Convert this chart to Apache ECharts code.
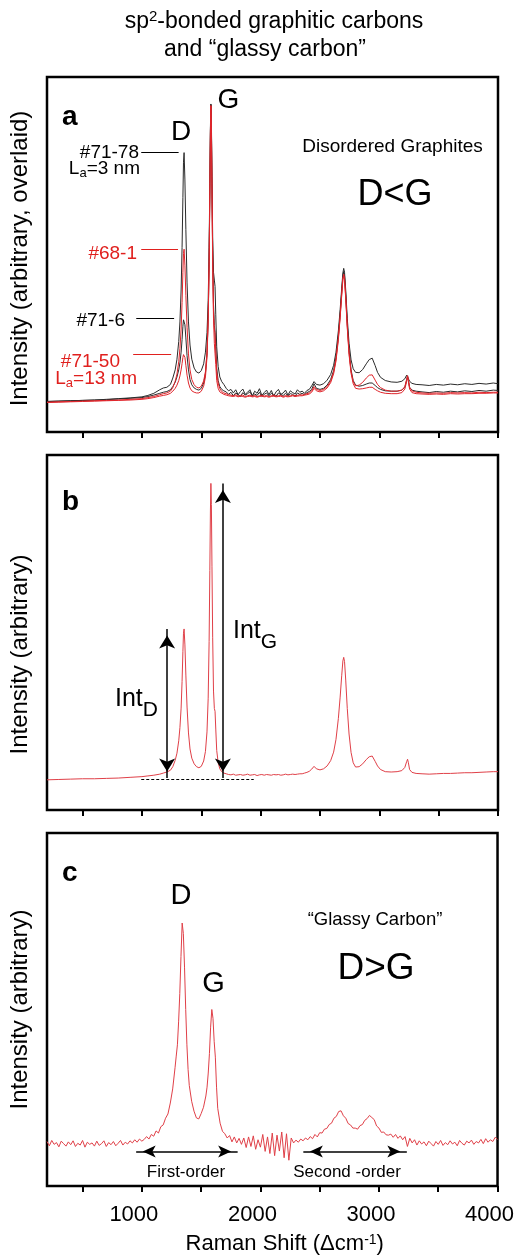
<!DOCTYPE html>
<html>
<head>
<meta charset="utf-8">
<script src="https://cdn.jsdelivr.net/npm/echarts@6/dist/echarts.min.js"></script>
<style>
  html, body { margin: 0; padding: 0; background: #fff; }
  #chart { width: 517px; height: 1256px; }
</style>
</head>
<body>
<div id="chart"></div>
<script>
// Raman shift sampling (cm-1) shared by panels a and b
const shiftAB = [
  200, 300, 400, 500, 600, 700, 800, 900, 1000, 1050, 1100, 1150, 1180, 1210, 1240,
  1260, 1280, 1295, 1310, 1320, 1330, 1338, 1345, 1350, 1355, 1362, 1370, 1380, 1392, 1405, 1420, 1440, 1460, 1480,
  1500, 1520, 1535, 1548, 1558, 1566, 1572, 1577, 1581, 1585, 1590, 1596, 1603, 1610, 1616, 1622, 1630, 1642, 1656, 1672, 1690,
  1710, 1730, 1750, 1770, 1790, 1810, 1830, 1850, 1870, 1890, 1910, 1930, 1950, 1970, 1990, 2010, 2030, 2050, 2070, 2090,
  2110, 2130, 2150, 2170, 2190, 2210, 2230, 2250, 2270, 2290, 2310, 2330, 2350, 2370, 2390,
  2410, 2430, 2450, 2470, 2500, 2530, 2560, 2590, 2615, 2635, 2655, 2670, 2683, 2693, 2700, 2707, 2717, 2730, 2745, 2762, 2780, 2800,
  2830, 2860, 2890, 2915, 2930, 2940, 2950, 2965, 2985, 3010, 3050, 3100, 3150, 3190, 3215, 3230, 3238, 3245, 3255, 3275, 3310,
  3360, 3420, 3480, 3540, 3600, 3660, 3720, 3780, 3840, 3900, 3960, 4000
];

// Panel a: disordered graphites, intensities normalised to the G band
const s7178 = [
  8.6, 8.7, 8.8, 8.9, 9.0, 9.2, 9.4, 9.6, 9.9, 10.3, 10.9, 11.9, 12.4, 12.6, 13.4,
  15.2, 17.5, 20.5, 25.5, 31, 40, 52, 66, 76, 78.7, 71, 57, 42, 31, 24.5, 20.5, 18, 16.9, 16.6,
  17.3, 19.2, 22.5, 28, 37, 52, 70, 86, 92.4, 88, 72, 55, 45, 42.8, 41, 33, 24, 18.5, 15.5, 14.2, 13.4,
  12.3, 11.6, 12.0, 11.0, 11.9, 10.5, 11.4, 12.1, 10.6, 11.2, 11.9, 10.2, 11.5, 10.9, 12.2, 10.3, 11.1, 11.8, 10.5, 11.7,
  10.1, 11.3, 12.0, 10.6, 11.0, 11.8, 10.4, 11.6, 11.1, 10.7, 11.9, 11.2, 11.5, 10.9, 11.7,
  12.0, 13.0, 14.2, 13.4, 13.2, 13.6, 14.6, 16.2, 18.8, 22.5, 28.5, 34.5, 40.5, 44.8, 46.1, 45, 40, 32, 25, 20.3, 17.8, 16.8,
  16.7, 17.6, 19.2, 20.4, 20.8, 20.8, 20.3, 18.7, 16.8, 15.4, 14.5, 14.1, 14.0, 14.3, 15.0, 16.0, 16.5, 15.6, 14.3, 13.7, 13.4,
  13.3, 13.1, 13.4, 13.2, 13.5, 13.3, 13.6, 13.4, 13.7, 13.5, 13.8, 13.6
];
const s716 = [
  8.6, 8.7, 8.8, 8.9, 9.0, 9.1, 9.3, 9.5, 9.7, 10.0, 10.4, 10.9, 11.2, 11.4, 11.9,
  12.8, 14.0, 15.5, 17.5, 19.5, 22.5, 26, 29.8, 31.6, 32.0, 30.2, 26.5, 21.5, 17.5, 14.8, 13.3, 12.4, 12.0, 11.8,
  12.3, 13.8, 16.5, 22, 32, 48, 68, 85, 92.2, 87, 70, 50, 36, 30, 28, 24, 18, 14.5, 12.8, 12.0, 11.6,
  11.3, 10.6, 11.2, 10.2, 11.0, 10.5, 10.0, 11.1, 10.4, 10.8, 11.3, 10.1, 10.7, 10.3, 11.2, 10.0, 10.6, 11.0, 10.2, 10.9,
  10.4, 10.1, 11.0, 10.5, 10.3, 10.9, 10.2, 10.8, 10.6, 10.1, 11.0, 10.6, 10.9, 10.5, 11.1,
  11.4, 12.0, 13.6, 12.3, 12.0, 12.3, 13.2, 14.8, 17.3, 21.0, 27.0, 33.2, 39.5, 44.0, 45.2, 44.0, 38.8, 30.5, 23.0, 17.5, 14.5, 13.2,
  12.9, 13.1, 13.5, 13.8, 13.9, 13.8, 13.6, 13.1, 12.5, 12.0, 11.6, 11.5, 11.5, 11.8, 12.6, 14.6, 15.8, 14.6, 12.6, 11.8, 11.5,
  11.3, 11.1, 11.4, 11.2, 11.5, 11.3, 11.6, 11.4, 11.7, 11.5, 11.8, 11.7
];
const s681 = [
  8.4, 8.5, 8.6, 8.7, 8.8, 8.9, 9.0, 9.2, 9.4, 9.7, 10.0, 10.5, 10.8, 11.0, 11.5,
  12.5, 14.3, 16.3, 19.8, 23.5, 29, 36.5, 45, 50.3, 51.5, 47, 38.5, 29.5, 22, 17.5, 14.8, 13.3, 12.6, 12.4,
  12.9, 14.4, 17, 22.5, 32, 48, 68, 85, 92.0, 86.5, 69, 49, 34, 29, 27.9, 23, 17, 13.8, 12.2, 11.4, 11.0,
  10.8, 10.5, 10.4, 10.2, 10.5, 10.1, 10.3, 10.4, 10.0, 10.2, 10.4, 10.1, 10.3, 10.0, 10.2, 10.4, 10.1, 10.3, 10.0, 10.2,
  10.4, 10.1, 10.2, 10.3, 10.0, 10.3, 10.1, 10.2, 10.4, 10.2, 10.3, 10.5, 10.4, 10.6, 10.8,
  11.0, 11.6, 12.8, 12.0, 11.7, 12.0, 12.8, 14.3, 16.8, 20.5, 26.5, 32.6, 38.8, 43.4, 44.5, 43.3, 38.0, 29.8, 22.3, 17.0, 14.2, 13.0,
  13.2, 14.0, 15.2, 16.0, 16.2, 16.1, 15.6, 14.6, 13.4, 12.5, 11.8, 11.5, 11.5, 11.8, 12.8, 14.8, 15.9, 14.7, 12.6, 11.6, 11.2,
  11.0, 10.9, 11.0, 10.9, 11.1, 11.0, 11.1, 11.0, 11.2, 11.1, 11.2, 11.2
];
const s7150 = [
  8.3, 8.4, 8.5, 8.6, 8.7, 8.8, 8.9, 9.0, 9.2, 9.4, 9.7, 10.1, 10.3, 10.5, 10.9,
  11.5, 12.3, 13.2, 14.5, 15.8, 17.5, 19.3, 21, 21.8, 22.0, 21, 18.8, 16, 13.8, 12.4, 11.6, 11.2, 11.0, 11.0,
  11.5, 12.9, 15.5, 21, 31, 47, 67, 84, 91.8, 86, 68, 47, 32, 25, 22, 19, 14.5, 12.3, 11.3, 10.8, 10.6,
  10.4, 10.2, 10.1, 10.0, 10.2, 9.9, 10.1, 10.0, 9.8, 10.0, 10.1, 9.9, 10.0, 9.8, 10.0, 10.1, 9.9, 10.0, 9.8, 10.0,
  10.1, 9.9, 10.0, 10.1, 9.8, 10.0, 9.9, 10.0, 10.2, 10.0, 10.1, 10.2, 10.2, 10.4, 10.5,
  10.7, 11.2, 12.3, 11.6, 11.3, 11.6, 12.4, 13.9, 16.4, 20.0, 26.0, 32.2, 38.4, 43.0, 44.0, 42.8, 37.5, 29.3, 21.8, 16.5, 13.6, 12.3,
  12.1, 12.2, 12.4, 12.6, 12.7, 12.6, 12.4, 12.0, 11.6, 11.2, 10.9, 10.8, 10.8, 11.1, 12.1, 14.2, 15.5, 14.2, 12.1, 11.1, 10.8,
  10.7, 10.6, 10.7, 10.6, 10.8, 10.7, 10.8, 10.8, 10.9, 10.9, 11.0, 11.0
];

// Panel b: single disordered-graphite spectrum
const spectrumB = [
  8.5, 8.6, 8.7, 8.8, 8.8, 8.9, 9.0, 9.2, 9.4, 9.6, 9.8, 10.1, 10.4, 10.7, 11.2,
  12.2, 14.0, 16.0, 19.5, 23.2, 28.7, 36.2, 44.6, 49.8, 51.0, 46.5, 38.0, 29.0, 21.7, 17.2, 14.6, 13.0, 12.2, 11.9,
  12.3, 13.8, 16.5, 22, 31.5, 47.5, 67.5, 84.5, 92.0, 86.0, 68.5, 48.5, 33.5, 28.6, 27.8, 22.8, 16.8, 13.4, 11.6, 10.8, 10.4,
  10.2, 10.0, 9.9, 10.1, 9.8, 9.9, 10.0, 9.8, 9.9, 10.1, 9.8, 9.9, 10.0, 9.7, 9.9, 10.0, 9.8, 10.0, 9.9, 9.8,
  10.0, 9.9, 10.0, 9.8, 9.9, 10.1, 9.9, 10.0, 10.1, 10.0, 10.1, 10.2, 10.2, 10.4, 10.6,
  10.9, 11.5, 12.3, 11.6, 11.3, 11.6, 12.4, 13.9, 16.3, 19.9, 25.8, 31.8, 37.8, 42.0, 43.0, 41.8, 36.6, 28.6, 21.4, 16.2, 13.3, 12.1,
  12.2, 13.0, 14.2, 15.0, 15.2, 15.2, 14.8, 13.7, 12.4, 11.4, 10.8, 10.7, 10.8, 11.1, 12.0, 13.6, 14.3, 13.3, 11.4, 10.6, 10.3,
  10.2, 10.1, 10.2, 10.3, 10.3, 10.4, 10.5, 10.5, 10.6, 10.7, 10.8, 10.8
];

// Panel c: glassy carbon, [shift, intensity]
const glassyCarbon = [
  [200,12.6],[220,11.4],[240,12.9],[260,11.8],[280,12.3],[300,11.1],[320,12.7],[340,12.0],[360,11.3],[380,12.5],
  [400,11.7],[420,12.8],[440,11.2],[460,12.1],[480,11.6],[500,12.9],[520,11.0],[540,12.4],[560,11.8],[580,12.2],
  [600,11.3],[620,12.7],[640,11.5],[660,12.0],[680,12.8],[700,11.2],[720,12.3],[740,11.7],[760,12.6],[780,11.4],
  [800,12.1],[820,12.9],[840,11.6],[860,12.4],[880,11.9],[900,12.8],[920,12.2],[940,13.1],[960,12.4],[980,13.3],[1000,12.7],
  [1020,13.2],[1040,14.0],[1060,13.3],[1080,14.6],[1100,14.1],[1120,15.6],[1140,15.0],[1160,16.8],[1180,17.3],[1200,19.2],
  [1220,20.4],[1240,23.5],[1260,27.5],[1280,33.5],[1290,36.8],[1300,40],[1310,46.5],[1320,54.5],[1330,65],[1340,74.5],
  [1350,71.5],[1360,62],[1370,50],[1380,40],[1390,33],[1400,28.5],[1420,24],[1440,21.2],[1460,19.3],[1480,19.0],
  [1500,20.5],[1520,22.3],[1540,25.5],[1550,28],[1560,32],[1570,37.5],[1580,45],[1590,50],[1600,47.5],[1610,41],
  [1620,36.5],[1630,28],[1640,22],[1660,17.8],[1680,15.5],[1700,14.8],[1720,13.6],[1740,14.3],[1760,12.5],[1780,13.9],
  [1800,12.2],[1820,13.5],[1840,11.8],[1860,13.6],[1880,10.9],[1900,13.9],[1920,11.2],[1940,14.2],[1960,10.4],[1980,13.1],
  [2000,11.0],[2020,14.6],[2040,9.8],[2060,13.9],[2080,9.2],[2100,15.0],[2120,8.6],[2140,14.4],[2160,9.9],[2180,15.3],
  [2200,8.0],[2220,14.8],[2240,7.3],[2260,13.6],[2280,12.2],[2300,13.0],[2320,12.4],[2340,13.3],[2360,12.8],[2380,13.6],
  [2400,13.1],[2420,14.0],[2440,13.4],[2460,14.6],[2480,13.9],[2500,15.1],[2520,15.0],[2540,16.1],[2560,16.3],[2580,17.4],
  [2600,17.8],[2620,19.2],[2640,19.7],[2660,21.1],[2680,21.3],[2700,19.9],[2720,19.2],[2740,17.7],[2760,17.3],[2780,16.4],
  [2800,16.4],[2820,16.1],[2840,17.1],[2860,17.4],[2880,18.6],[2900,19.1],[2920,20.0],[2940,19.4],[2960,18.8],[2980,17.0],
  [3000,16.4],[3020,15.2],[3040,15.3],[3060,14.5],[3080,14.4],[3100,14.7],[3120,13.8],[3140,14.6],[3160,13.5],[3180,14.2],
  [3200,13.1],[3220,14.0],[3240,11.2],[3260,13.5],[3280,12.2],[3300,13.1],[3320,11.6],[3340,12.8],[3360,11.9],[3380,12.5],
  [3400,11.4],[3420,12.7],[3440,12.0],[3460,11.3],[3480,12.6],[3500,11.8],[3520,12.9],[3540,11.5],[3560,12.3],[3580,11.7],
  [3600,12.8],[3620,11.9],[3640,12.4],[3660,11.4],[3680,12.9],[3700,12.1],[3720,11.6],[3740,12.7],[3760,12.2],[3780,13.0],
  [3800,11.8],[3820,12.6],[3840,12.2],[3860,13.2],[3880,12.0],[3900,13.4],[3920,12.4],[3940,13.1],[3960,12.6],[3980,13.8],
  [4000,13.2]
];

// Axis ticks
const xTicks = [500, 1000, 1500, 2000, 2500, 3000, 3500, 4000];
const xTickLabels = [1000, 2000, 3000, 4000];

const FONT = 'Liberation Sans, Arial, Helvetica, sans-serif';
const BLACK = '#2b2b2b';
const RED = '#e0252b';
const RED_TEXT = '#e0201e';
const RED_B = '#e04048';

const pairs = ys => shiftAB.map((x, i) => [x, ys[i]]);
const peakIn = (pts, lo, hi) => Math.max(...pts.filter(p => p[0] >= lo && p[0] <= hi).map(p => p[1]));

const a7178 = pairs(s7178), a716 = pairs(s716), a681 = pairs(s681), a7150 = pairs(s7150);
const bSpec = pairs(spectrumB);

// leader line spans (cm-1) from each sample label to its D band
function leader(pts, x0, x1, color) {
  const y = peakIn(pts, 1300, 1420);
  return {
    silent: true, symbol: 'none', animation: false,
    label: { show: false },
    lineStyle: { color: color, width: 1, type: 'solid' },
    emphasis: { disabled: true },
    data: [[{ coord: [x0, y] }, { coord: [x1, y] }]]
  };
}

const bBase = 9.0;
const bD = peakIn(bSpec, 1300, 1420);
const bG = peakIn(bSpec, 1540, 1620);
const cBase = 9.8;

const arrowMark = (segments, size) => ({
  silent: true, animation: false,
  symbol: ['arrow', 'arrow'],
  symbolSize: size,
  symbolOffset: [[0, size[1] / 2], [0, size[1] / 2]],
  label: { show: false },
  emphasis: { disabled: true },
  lineStyle: { color: '#000', width: 1.5, type: 'solid' },
  data: segments
});

function xAxis(i, withLabels) {
  const ax = {
    type: 'value', gridIndex: i, min: 200, max: 4000,
    axisLine: { show: false },
    splitLine: { show: false },
    axisTick: { show: true, customValues: xTicks, length: 6, lineStyle: { color: '#000', width: 2 } },
    axisLabel: { show: false }
  };
  if (withLabels) {
    ax.axisLabel = {
      show: true, customValues: xTickLabels, color: '#000', fontSize: 22, fontFamily: FONT,
      margin: 18, padding: [0, 16, 0, 0],
      formatter: v => String(v)
    };
    ax.name = '{m|Raman Shift (\u0394cm}{u|-1}{m|)}';
    ax.nameLocation = 'middle';
    ax.nameGap = 47;
    ax.nameTextStyle = {
      color: '#000', fontFamily: FONT, padding: [0, 0, 0, 25],
      rich: {
        m: { fontSize: 22, lineHeight: 22, fontFamily: FONT, color: '#000' },
        u: { fontSize: 14, lineHeight: 14, verticalAlign: 'top', fontFamily: FONT, color: '#000' }
      }
    };
  }
  return ax;
}

// shift moves the rotated axis title along the axis (positive = downwards)
function yAxis(i, name, shift) {
  return {
    type: 'value', gridIndex: i, min: 0, max: 100,
    axisLine: { show: false }, axisTick: { show: false }, axisLabel: { show: false }, splitLine: { show: false },
    name: name, nameLocation: 'middle', nameRotate: 90, nameGap: 15,
    nameTextStyle: {
      fontSize: 24, color: '#000', fontFamily: FONT,
      padding: shift > 0 ? [0, 2 * shift, 0, 0] : [0, 0, 0, -2 * shift]
    }
  };
}

function lineSeries(data, color, xi, extra) {
  return Object.assign({
    type: 'line', data: data, xAxisIndex: xi, yAxisIndex: xi,
    showSymbol: false, symbol: 'none', animation: false, silent: true,
    lineStyle: { color: color, width: 1 }
  }, extra || {});
}

const gridStyle = { left: 45, width: 453, show: true, borderColor: '#000', borderWidth: 2.5, backgroundColor: 'transparent' };

function txt(x, y, text, opts) {
  return {
    type: 'text', x: x, y: y, silent: true,
    style: Object.assign({ text: text, fill: '#000', fontSize: 19, fontFamily: FONT, align: 'center', verticalAlign: 'middle' }, opts || {})
  };
}
const subRich = (color, big, small, lh) => ({
  m: { fontSize: big, lineHeight: lh, verticalAlign: 'middle', fill: color, fontFamily: FONT },
  s: { fontSize: small, lineHeight: small, verticalAlign: 'bottom', fill: color, fontFamily: FONT }
});

const option = {
  backgroundColor: '#fff',
  animation: false,
  grid: [
    Object.assign({ top: 77, height: 355 }, gridStyle),
    Object.assign({ top: 455, height: 355 }, gridStyle),
    Object.assign({ top: 833, height: 354 }, gridStyle)
  ],
  xAxis: [xAxis(0, false), xAxis(1, false), xAxis(2, true)],
  yAxis: [
    yAxis(0, 'Intensity (arbitrary, overlaid)', 4),
    yAxis(1, 'Intensity (arbitrary)', 22),
    yAxis(2, 'Intensity (arbitrary)', 0)
  ],
  series: [
    lineSeries(a7178, BLACK, 0, { name: '#71-78', markLine: leader(a7178, 994, 1309, '#000') }),
    lineSeries(a716, BLACK, 0, { name: '#71-6', markLine: leader(a716, 952, 1271, '#000') }),
    lineSeries(a681, RED, 0, { name: '#68-1', markLine: leader(a681, 994, 1304, RED_TEXT) }),
    lineSeries(a7150, RED, 0, { name: '#71-50', markLine: leader(a7150, 926, 1246, RED_TEXT) }),
    lineSeries(bSpec, RED_B, 1, {
      name: 'b',
      markLine: arrowMark([
        [{ coord: [1212, bBase] }, { coord: [1212, bD] }],
        [{ coord: [1682, bBase] }, { coord: [1682, bG] }]
      ], [12, 13])
    }),
    // dashed baseline under the intensity arrows
    {
      type: 'line', xAxisIndex: 1, yAxisIndex: 1, data: [], silent: true, animation: false,
      markLine: {
        silent: true, symbol: 'none', animation: false, label: { show: false },
        lineStyle: { color: '#000', width: 1, type: [3, 2] },
        data: [[{ coord: [994, bBase - 0.3] }, { coord: [1942, bBase - 0.3] }]]
      }
    },
    lineSeries(glassyCarbon, RED_B, 2, {
      name: 'c',
      markLine: arrowMark([
        [{ coord: [952, cBase] }, { coord: [1808, cBase] }],
        [{ coord: [2362, cBase] }, { coord: [3235, cBase] }]
      ], [9, 13])
    })
  ],
  graphic: [
    // title
    txt(274, 9, '{m|sp}{u|2}{m|-bonded graphitic carbons}', {
      verticalAlign: 'top',
      rich: {
        m: { fontSize: 23, lineHeight: 26, verticalAlign: 'middle', fill: '#000', fontFamily: FONT },
        u: { fontSize: 15, lineHeight: 15, verticalAlign: 'top', fill: '#000', fontFamily: FONT }
      }
    }),
    txt(265, 50, 'and \u201cglassy carbon\u201d', { fontSize: 23 }),

    // panel a
    txt(62, 117.3, 'a', { fontSize: 28, fontWeight: 'bold', align: 'left' }),
    txt(181, 132.3, 'D', { fontSize: 28 }),
    txt(228.5, 100.3, 'G', { fontSize: 28 }),
    txt(392.5, 146.7, 'Disordered Graphites', { fontSize: 19 }),
    txt(395, 195.5, 'D<G', { fontSize: 36 }),
    txt(139, 152.7, '#71-78', { align: 'right' }),
    txt(140, 156.4, '{m|L}{s|a}{m|=3 nm}', { align: 'right', verticalAlign: 'top', rich: subRich('#000', 19, 13, 24) }),
    txt(137, 253.4, '#68-1', { align: 'right', fill: RED_TEXT }),
    txt(125, 320.4, '#71-6', { align: 'right' }),
    txt(120, 361.4, '#71-50', { align: 'right', fill: RED_TEXT }),
    txt(137, 366.4, '{m|L}{s|a}{m|=13 nm}', { align: 'right', verticalAlign: 'top', fill: RED_TEXT, rich: subRich(RED_TEXT, 19, 13, 24) }),

    // panel b
    txt(62, 502.3, 'b', { fontSize: 28, fontWeight: 'bold', align: 'left' }),
    txt(115, 678.3, '{m|Int}{s|D}', { align: 'left', verticalAlign: 'top', rich: subRich('#000', 25, 21, 42) }),
    txt(233, 610.3, '{m|Int}{s|G}', { align: 'left', verticalAlign: 'top', rich: subRich('#000', 25, 21, 42) }),

    // panel c
    txt(62, 873.3, 'c', { fontSize: 28, fontWeight: 'bold', align: 'left' }),
    txt(181, 896, 'D', { fontSize: 29 }),
    txt(213.5, 984, 'G', { fontSize: 29 }),
    txt(375, 919.5, '\u201cGlassy Carbon\u201d', { fontSize: 18.5 }),
    txt(376, 969.2, 'D>G', { fontSize: 37 }),
    txt(186, 1172.4, 'First-order', { fontSize: 17 }),
    txt(347, 1172.4, 'Second -order', { fontSize: 17 })
  ]
};

const chart = echarts.init(document.getElementById('chart'), null, { renderer: 'canvas' });
chart.setOption(option);
</script>
</body>
</html>
